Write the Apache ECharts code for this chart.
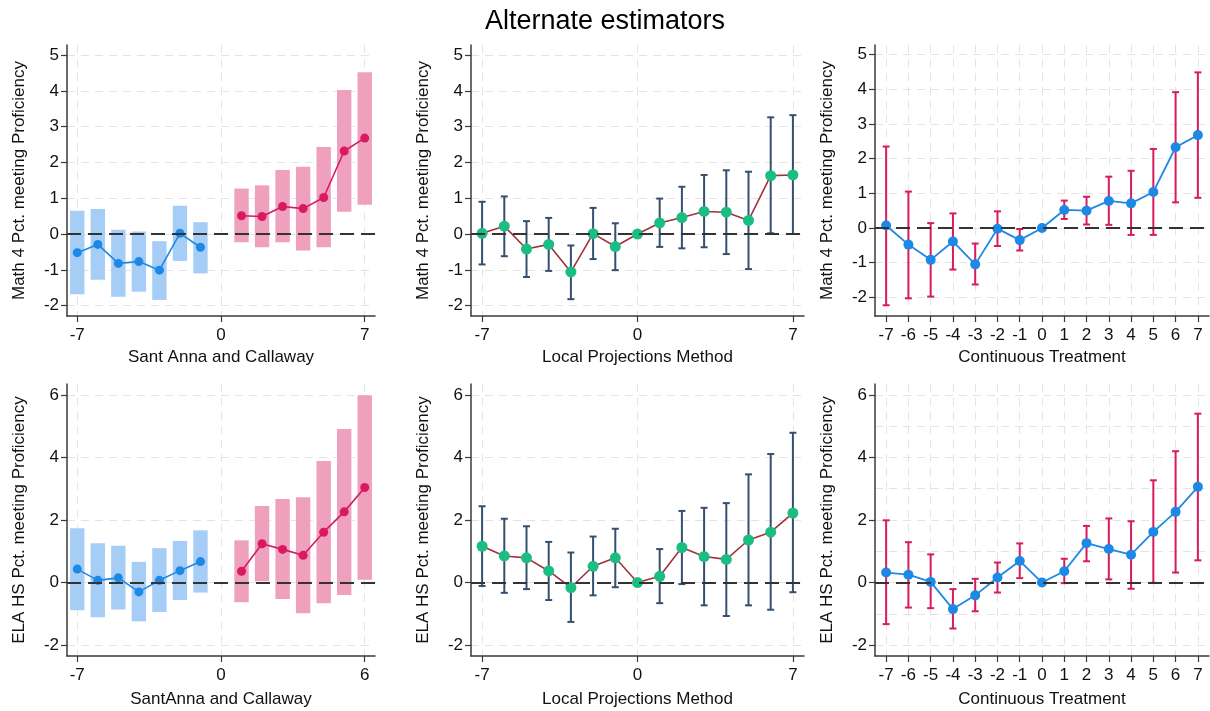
<!DOCTYPE html>
<html><head><meta charset="utf-8">
<script src="https://cdn.jsdelivr.net/npm/echarts@6/dist/echarts.min.js"></script>
<style>html,body{margin:0;padding:0;background:#fff}#c{width:1210px;height:711px}</style>
</head><body><div id="c"></div>
<script>
// ---------------- data ----------------
const chartTitle = 'Alternate estimators';
const xEvent = [-7,-6,-5,-4,-3,-2,-1,0,1,2,3,4,5,6,7];
const xPre = [-7,-6,-5,-4,-3,-2,-1];
const xPost = [1,2,3,4,5,6,7];

const xTicksSparse = [-7,0,7];
const xLabelsSparse = ['-7','0','7'];
const xLabelsSparseEla = ['-7','0','6'];
const xLabelsAll = ['-7','-6','-5','-4','-3','-2','-1','0','1','2','3','4','5','6','7'];

const yTicksMath = [-2,-1,0,1,2,3,4,5];
const yTicksEla = [-2,0,2,4,6];
const yGridEla = [-2,-1,0,1,2,3,4,5,6];

const yNameMath = 'Math 4 Pct. meeting Proficiency';
const yNameEla = 'ELA HS Pct. meeting Proficiency';
const xNameSA1 = 'Sant Anna and Callaway';
const xNameSA2 = 'SantAnna and Callaway';
const xNameLP = 'Local Projections Method';
const xNameCT = 'Continuous Treatment';

// Panel 1: Sant Anna & Callaway, Math 4
const saMathPreEst = [-0.52,-0.29,-0.82,-0.77,-1.01,0.02,-0.37];
const saMathPreLo  = [-1.68,-1.28,-1.75,-1.61,-1.84,-0.75,-1.10];
const saMathPreHi  = [0.65,0.70,0.12,0.07,-0.20,0.79,0.33];
const saMathPostEst = [0.51,0.49,0.77,0.71,1.02,2.32,2.68];
const saMathPostLo  = [-0.23,-0.37,-0.23,-0.46,-0.37,0.62,0.82];
const saMathPostHi  = [1.27,1.36,1.79,1.88,2.43,4.02,4.52];

// Panel 2: Local projections, Math 4
const lpMathEst = [0.02,0.22,-0.42,-0.29,-1.06,0.01,-0.35,0,0.31,0.46,0.63,0.61,0.38,1.63,1.65];
const lpMathLo  = [-0.85,-0.62,-1.20,-1.03,-1.82,-0.70,-1.01,0,-0.36,-0.40,-0.37,-0.56,-0.98,0.02,0.00];
const lpMathHi  = [0.90,1.05,0.36,0.45,-0.32,0.73,0.30,0,0.99,1.32,1.65,1.78,1.74,3.26,3.32];

// Panel 3: Continuous treatment, Math 4
const ctMathEst = [0.07,-0.48,-0.92,-0.39,-1.05,-0.02,-0.35,0,0.52,0.50,0.78,0.71,1.04,2.33,2.68];
const ctMathLo  = [-2.23,-2.03,-1.98,-1.20,-1.63,-0.52,-0.65,0,0.26,0.10,0.09,-0.20,-0.20,0.74,0.87];
const ctMathHi  = [2.35,1.05,0.14,0.42,-0.45,0.48,-0.03,0,0.79,0.90,1.48,1.65,2.28,3.92,4.49];

// Panel 4: Sant Anna & Callaway, ELA HS
const saElaPreEst = [0.43,0.07,0.15,-0.30,0.07,0.38,0.67];
const saElaPreLo  = [-0.89,-1.11,-0.86,-1.24,-0.94,-0.56,-0.32];
const saElaPreHi  = [1.74,1.26,1.18,0.66,1.10,1.33,1.67];
const saElaPostEst = [0.36,1.24,1.06,0.87,1.61,2.26,3.04];
const saElaPostLo  = [-0.63,0.04,-0.53,-0.98,-0.66,-0.40,0.09];
const saElaPostHi  = [1.35,2.45,2.67,2.73,3.89,4.91,5.99];

// Panel 5: Local projections, ELA HS
const lpElaEst = [1.16,0.85,0.79,0.37,-0.16,0.52,0.79,0,0.20,1.12,0.83,0.74,1.36,1.61,2.22];
const lpElaLo  = [-0.11,-0.33,-0.21,-0.56,-1.26,-0.41,-0.15,0,-0.66,-0.05,-0.73,-1.07,-0.73,-0.87,-0.31];
const lpElaHi  = [2.44,2.04,1.80,1.30,0.96,1.47,1.72,0,1.07,2.29,2.39,2.54,3.46,4.11,4.79];

// Panel 6: Continuous treatment, ELA HS
const ctElaEst = [0.32,0.25,0.02,-0.85,-0.41,0.16,0.69,0,0.36,1.26,1.07,0.89,1.62,2.26,3.06];
const ctElaLo  = [-1.33,-0.80,-0.82,-1.47,-0.92,-0.32,0.14,0,-0.02,0.68,0.10,-0.20,-0.01,0.32,0.71];
const ctElaHi  = [1.99,1.29,0.90,-0.21,0.12,0.64,1.25,0,0.76,1.81,2.05,1.96,3.27,4.20,5.40];

// ---------------- styling / layout ----------------
const FONT = '"Liberation Sans", Arial, Helvetica, sans-serif';
const TXT = '#111';
const AXIS = '#3a3a3a';
const GRIDC = '#e4e4e4';
const BLUE = '#1e88e5', RED = '#d81b60';
const BLUE_BAR = '#a5cdf6', RED_BAR = '#eea0bc';
const LP_BAR = '#34506e', LP_PT = '#1abe82', LP_LINE = '#a0323c';

const cols = [{left:67, width:308}, {left:471, width:333}, {left:875, width:334}];
const rows = [{top:45, height:271, nameGap: 33}, {top:384, height:272, nameGap: 35}];
const yRangeMath = [-2.29, 5.28];
const yRangeMath3 = [-2.54, 5.28];
const yRangeEla = [-2.35, 6.35];
const xRange = [-7.5, 7.5];

const grids = [], xAxes = [], yAxes = [], series = [];

function zip3(xs, lo, hi) { return xs.map((x, i) => [x, lo[i], hi[i]]); }
function zip2(xs, ys) { return xs.map((x, i) => [x, ys[i]]); }

function addPanel(r, c, cfg) {
  const gi = grids.length;
  grids.push({left: cols[c].left, top: rows[r].top, width: cols[c].width, height: rows[r].height});
  const xl = cfg.xLabels, xt = cfg.xTicks;
  xAxes.push({
    type: 'value', gridIndex: gi, min: xRange[0], max: xRange[1],
    name: cfg.xName, nameLocation: 'middle', nameGap: rows[r].nameGap,
    nameTextStyle: {fontFamily: FONT, fontSize: 17, color: TXT},
    axisLine: {show: true, onZero: false, lineStyle: {color: AXIS, width: 1.5}},
    axisTick: {show: true, length: 6, customValues: xt, lineStyle: {color: AXIS, width: 1.2}},
    axisLabel: {customValues: xt, margin: 11, fontFamily: FONT, fontSize: 17, color: TXT,
      formatter: v => xl[xt.indexOf(v)]},
    splitLine: {show: true, lineStyle: {color: GRIDC, width: 1, type: [8, 6]}}
  });
  const yi = yAxes.length;
  yAxes.push({
    type: 'value', gridIndex: gi, min: cfg.yRange[0], max: cfg.yRange[1],
    name: cfg.yName, nameLocation: 'middle', nameGap: 39, nameRotate: 90,
    nameTextStyle: {fontFamily: FONT, fontSize: 17, color: TXT},
    axisLine: {show: true, onZero: false, lineStyle: {color: AXIS, width: 1.5}},
    axisTick: {show: true, length: 6, customValues: cfg.yTicks, lineStyle: {color: AXIS, width: 1.2}},
    axisLabel: {customValues: cfg.yTicks, margin: 8, fontFamily: FONT, fontSize: 17, color: TXT,
      formatter: v => String(v)},
    splitLine: {show: !cfg.yGrid, lineStyle: {color: GRIDC, width: 1, type: [8, 6]}}
  });
  if (cfg.yGrid) {
    // grid lines at every unit (labels only every 2)
    yAxes.push({
      type: 'value', gridIndex: gi, min: cfg.yRange[0], max: cfg.yRange[1],
      axisLine: {show: false}, axisLabel: {show: false},
      axisTick: {show: false, customValues: cfg.yGrid},
      splitLine: {show: true, lineStyle: {color: GRIDC, width: 1, type: [8, 6]}}
    });
  }
  const zeroLine = {
    silent: true, symbol: 'none', label: {show: false},
    lineStyle: {color: '#333', width: 2, type: [14, 7]},
    data: [{yAxis: 0}]
  };
  cfg.build(gi, yi, zeroLine);
}

function barRender(color) {
  return function (params, api) {
    const x = api.value(0), lo = api.value(1), hi = api.value(2);
    const p1 = api.coord([x - 0.35, hi]);
    const p2 = api.coord([x + 0.35, lo]);
    return {type: 'rect', shape: {x: p1[0], y: p1[1], width: p2[0] - p1[0], height: p2[1] - p1[1]},
      style: {fill: color}};
  };
}
function errRender(color) {
  return function (params, api) {
    const x = api.value(0), lo = api.value(1), hi = api.value(2);
    if (lo === hi) return null;
    const a = api.coord([x, hi]), b = api.coord([x, lo]);
    const cap = 3.5;
    return {type: 'group', children: [
      {type: 'line', shape: {x1: a[0], y1: a[1], x2: b[0], y2: b[1]}, style: {stroke: color, lineWidth: 2}},
      {type: 'line', shape: {x1: a[0] - cap, y1: a[1], x2: a[0] + cap, y2: a[1]}, style: {stroke: color, lineWidth: 2}},
      {type: 'line', shape: {x1: b[0] - cap, y1: b[1], x2: b[0] + cap, y2: b[1]}, style: {stroke: color, lineWidth: 2}}
    ]};
  };
}

function saBuilder(preEst, preLo, preHi, postEst, postLo, postHi) {
  return function (gi, yi, zeroLine) {
    series.push({type: 'custom', xAxisIndex: gi, yAxisIndex: yi, z: 2, renderItem: barRender(BLUE_BAR),
      encode: {x: 0, y: [1, 2]}, data: zip3(xPre, preLo, preHi)});
    series.push({type: 'custom', xAxisIndex: gi, yAxisIndex: yi, z: 2, renderItem: barRender(RED_BAR),
      encode: {x: 0, y: [1, 2]}, data: zip3(xPost, postLo, postHi), markLine: zeroLine});
    series.push({type: 'line', xAxisIndex: gi, yAxisIndex: yi, z: 4, data: zip2(xPre, preEst),
      symbol: 'circle', symbolSize: 9, lineStyle: {color: BLUE, width: 1.6}, itemStyle: {color: BLUE}});
    series.push({type: 'line', xAxisIndex: gi, yAxisIndex: yi, z: 4, data: zip2(xPost, postEst),
      symbol: 'circle', symbolSize: 9, lineStyle: {color: RED, width: 1.6}, itemStyle: {color: RED}});
  };
}
function lpBuilder(est, lo, hi) {
  return function (gi, yi, zeroLine) {
    series.push({type: 'custom', xAxisIndex: gi, yAxisIndex: yi, z: 2, renderItem: errRender(LP_BAR),
      encode: {x: 0, y: [1, 2]}, data: zip3(xEvent, lo, hi), markLine: zeroLine});
    series.push({type: 'line', xAxisIndex: gi, yAxisIndex: yi, z: 4, data: zip2(xEvent, est),
      symbol: 'circle', symbolSize: 11, lineStyle: {color: LP_LINE, width: 1.6}, itemStyle: {color: LP_PT}});
  };
}
function ctBuilder(est, lo, hi) {
  return function (gi, yi, zeroLine) {
    series.push({type: 'custom', xAxisIndex: gi, yAxisIndex: yi, z: 2, renderItem: errRender(RED),
      encode: {x: 0, y: [1, 2]}, data: zip3(xEvent, lo, hi), markLine: zeroLine});
    series.push({type: 'line', xAxisIndex: gi, yAxisIndex: yi, z: 4, data: zip2(xEvent, est),
      symbol: 'circle', symbolSize: 10, lineStyle: {color: BLUE, width: 1.8}, itemStyle: {color: BLUE}});
  };
}

addPanel(0, 0, {xTicks: xTicksSparse, xLabels: xLabelsSparse, xName: xNameSA1, yTicks: yTicksMath, yRange: yRangeMath, yName: yNameMath,
  build: saBuilder(saMathPreEst, saMathPreLo, saMathPreHi, saMathPostEst, saMathPostLo, saMathPostHi)});
addPanel(0, 1, {xTicks: xTicksSparse, xLabels: xLabelsSparse, xName: xNameLP, yTicks: yTicksMath, yRange: yRangeMath, yName: yNameMath,
  build: lpBuilder(lpMathEst, lpMathLo, lpMathHi)});
addPanel(0, 2, {xTicks: xEvent, xLabels: xLabelsAll, xName: xNameCT, yTicks: yTicksMath, yRange: yRangeMath3, yName: yNameMath,
  build: ctBuilder(ctMathEst, ctMathLo, ctMathHi)});
addPanel(1, 0, {xTicks: xTicksSparse, xLabels: xLabelsSparseEla, xName: xNameSA2, yTicks: yTicksEla, yRange: yRangeEla, yName: yNameEla,
  build: saBuilder(saElaPreEst, saElaPreLo, saElaPreHi, saElaPostEst, saElaPostLo, saElaPostHi)});
addPanel(1, 1, {xTicks: xTicksSparse, xLabels: xLabelsSparse, xName: xNameLP, yTicks: yTicksEla, yRange: yRangeEla, yName: yNameEla,
  build: lpBuilder(lpElaEst, lpElaLo, lpElaHi)});
addPanel(1, 2, {xTicks: xEvent, xLabels: xLabelsAll, xName: xNameCT, yTicks: yTicksEla, yRange: yRangeEla, yName: yNameEla, yGrid: yGridEla,
  build: ctBuilder(ctElaEst, ctElaLo, ctElaHi)});

const chart = echarts.init(document.getElementById('c'), null, {renderer: 'canvas'});
chart.setOption({
  backgroundColor: '#ffffff',
  animation: false,
  title: {text: chartTitle, left: 'center', top: 3,
    textStyle: {fontFamily: FONT, fontSize: 27, fontWeight: 'normal', color: '#000'}},
  grid: grids, xAxis: xAxes, yAxis: yAxes, series: series
});
</script></body></html>
